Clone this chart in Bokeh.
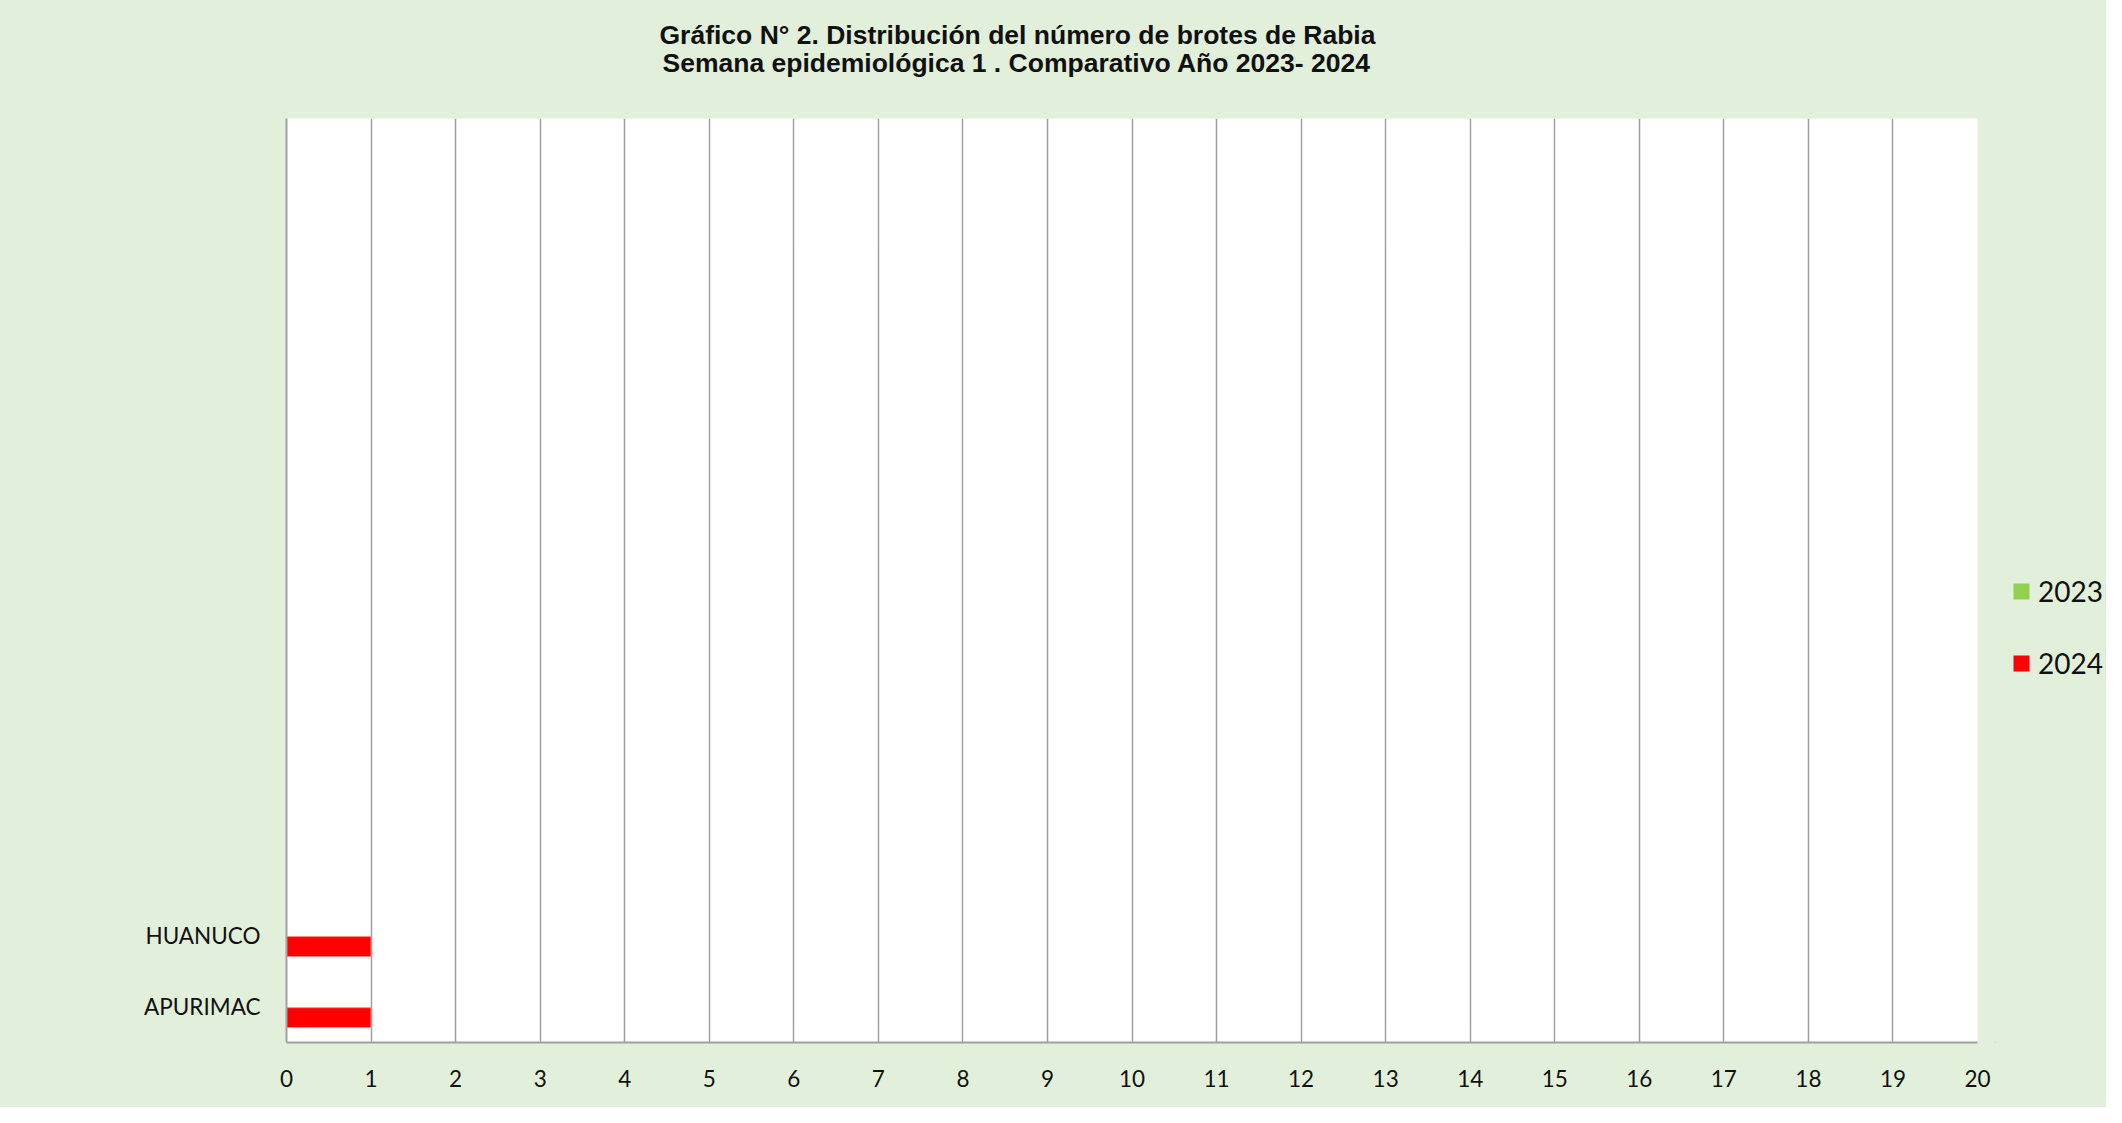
from bokeh.plotting import figure
from bokeh.layouts import row
from bokeh.models import (Range1d, FixedTicker, Legend, LegendItem, Title,
                          ColumnDataSource)
from bokeh.transform import dodge
from bokeh.embed import file_html
from bokeh.resources import INLINE

# ---- data ----
categories = ["APURIMAC", "HUANUCO"]
n_slots = 13                      # category slots on the axis (only two used)
values_2023 = [0, 0]
values_2024 = [1, 1]
series_names = ["2023", "2024"]
x_ticks = list(range(0, 21))
title_line1 = "Gráfico N° 2. Distribución  del número de brotes de Rabia"
title_line2 = "Semana epidemiológica 1 . Comparativo Año 2023- 2024"

GREEN_BG = "#E2EFDA"
GRID = "#A0A0A0"
C2023 = "#92D050"
C2024 = "#FF0000"
EDGE2024 = "#FF8C8C"

pos = [i + 0.5 for i in range(len(categories))]
src = ColumnDataSource(dict(y=pos, cat=categories, v2023=values_2023, v2024=values_2024))

H = 1107
W_MAIN, W_LEG = 1995, 111
FL, FR, FT, FB = 286, 1977, 118, 1042   # frame edges on the canvas
p = figure(width=W_MAIN, height=H, output_backend="svg", toolbar_location=None,
           x_range=Range1d(0, 20), y_range=Range1d(0, n_slots),
           min_border_left=FL, min_border_right=W_MAIN - FR, min_border_top=FT,
           min_border_bottom=H - FB)
p.background_fill_color = "white"
p.border_fill_color = GREEN_BG
p.outline_line_color = None

r23 = p.hbar(y=dodge("y", 0.15), left=0, right="v2023", height=0.28, source=src,
             fill_color=C2023, line_color=None)
r24 = p.hbar(y=dodge("y", -0.15), left=0, right="v2024", height=0.28, source=src,
             fill_color=C2024, line_color=EDGE2024, line_width=1)

# axes
p.xaxis.ticker = FixedTicker(ticks=x_ticks)
p.yaxis.ticker = FixedTicker(ticks=pos)
p.yaxis.major_label_overrides = {pv: c for pv, c in zip(pos, categories)}
for ax in (p.xaxis[0], p.yaxis[0]):
    ax.axis_line_color = GRID
    ax.axis_line_width = 2
    ax.major_tick_line_color = None
    ax.minor_tick_line_color = None
    ax.major_label_text_font = "Lato"
    ax.major_label_text_font_size = "22.5px"
    ax.major_label_text_color = "#111111"
p.xaxis.major_label_standoff = 21
p.yaxis.major_label_standoff = 20

p.xgrid.ticker = FixedTicker(ticks=x_ticks)
p.xgrid.grid_line_color = GRID
p.xgrid.grid_line_width = 1.5
p.ygrid.grid_line_color = None

# title (two lines; the one added first sits next to the plot)
TFONT = dict(text_font="Liberation Sans", text_font_style="bold",
             text_font_size="26.5px", text_color="#111111")
t2 = Title(text=title_line2, align="left", offset=376, standoff=82, **TFONT)
t1 = Title(text=title_line1, align="left", offset=373, standoff=-90, **TFONT)
p.add_layout(t2, "above")
p.add_layout(t1, "above")

# legend panel (separate narrow figure to the right)
lf = figure(width=W_LEG, height=H, output_backend="svg", toolbar_location=None,
            x_range=Range1d(10, 11), y_range=Range1d(10, 11),
            x_axis_location=None, y_axis_location=None,
            min_border_left=0, min_border_right=0, min_border_top=0,
            min_border_bottom=0)
lf.background_fill_color = GREEN_BG
lf.border_fill_color = GREEN_BG
lf.outline_line_color = None
lf.grid.visible = False
l23 = lf.hbar(y="y", left=0, right="v2023", height=0.28, source=src,
              fill_color=C2023, line_color=None)
l24 = lf.hbar(y="y", left=0, right="v2024", height=0.28, source=src,
              fill_color=C2024, line_color=None)
legend = Legend(items=[LegendItem(label=series_names[0], renderers=[l23]),
                       LegendItem(label=series_names[1], renderers=[l24])],
                location=(16, 362), orientation="vertical",
                glyph_width=20, glyph_height=20, label_standoff=7,
                label_text_font="Lato", label_text_font_size="28px",
                label_text_color="#111111", spacing=38, padding=0, margin=0,
                border_line_color=None, background_fill_alpha=0)
lf.add_layout(legend, "center")

layout = row(p, lf, spacing=0, styles={"background-color": GREEN_BG})
open("out.html", "w").write(file_html(layout, INLINE))
